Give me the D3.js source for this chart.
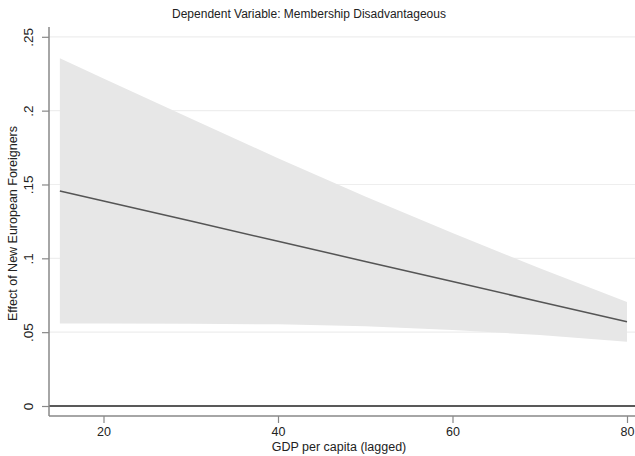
<!DOCTYPE html>
<html>
<head>
<meta charset="utf-8">
<script src="https://cdn.jsdelivr.net/npm/d3@7"></script>
<style>
  body { margin: 0; background: #fff; }
  text { font-family: "Liberation Sans", Arial, sans-serif; fill: #222; }
</style>
</head>
<body>
<div id="chart"></div>
<script>
// GDP per capita values where the estimates were read
const gdp = [15, 20, 30, 40, 50, 60, 70, 80];
const effect = [0.1456, 0.1388, 0.1252, 0.1115, 0.0979, 0.0843, 0.0706, 0.0570];
const upper = [0.2354, 0.2218, 0.1947, 0.1677, 0.1418, 0.1171, 0.0932, 0.0705];
const lower = [0.0558, 0.0558, 0.0557, 0.0553, 0.0540, 0.0515, 0.0480, 0.0435];

const xTicks = [20, 40, 60, 80];
const yTicks = [0, 0.05, 0.1, 0.15, 0.2, 0.25];
const yTickLabels = ["0", ".05", ".1", ".15", ".2", ".25"];

const titleText = "Dependent Variable: Membership Disadvantageous";
const xTitle = "GDP per capita (lagged)";
const yTitle = "Effect of New European Foreigners";

const wSvg = 635;
const hSvg = 456;
const pLeft = 49;
const pRight = 635;
const pTop = 27;
const pBottom = 416;

const x = d3.scaleLinear([20, 80], [103.5, 627]);
const y = d3.scaleLinear([0, 0.25], [406, 36.8]);

const rows = gdp.map((g, i) => ({g: g, e: effect[i], hi: upper[i], lo: lower[i]}));

const svg = d3.select("#chart")
    .append("svg")
    .attr("width", wSvg)
    .attr("height", hSvg);

// gridlines
svg.append("g")
    .selectAll("line")
    .data(yTicks.filter(t => t > 0))
    .enter()
    .append("line")
    .attr("x1", pLeft)
    .attr("x2", pRight)
    .attr("y1", d => y(d))
    .attr("y2", d => y(d))
    .attr("stroke", "#eeeeee")
    .attr("stroke-width", 1.2);

// confidence band
svg.append("path")
    .datum(rows)
    .attr("fill", "#e7e7e7")
    .attr("d", d3.area()
        .x(d => x(d.g))
        .y0(d => y(d.lo))
        .y1(d => y(d.hi)));

// estimate line
svg.append("path")
    .datum(rows)
    .attr("fill", "none")
    .attr("stroke", "#555")
    .attr("stroke-width", 1.5)
    .attr("d", d3.line()
        .x(d => x(d.g))
        .y(d => y(d.e)));

// zero reference line
svg.append("line")
    .attr("x1", pLeft)
    .attr("x2", pRight)
    .attr("y1", y(0))
    .attr("y2", y(0))
    .attr("stroke", "#222")
    .attr("stroke-width", 1.5);

// y axis
let yAxis = d3.axisLeft(y)
    .tickValues(yTicks)
    .tickSize(7)
    .tickPadding(5)
    .tickFormat((d, i) => yTickLabels[i]);

let yG = svg.append("g")
    .attr("transform", `translate(${pLeft}, 0)`)
    .call(yAxis);

yG.select(".domain").remove();
yG.append("line")
    .attr("x1", 0).attr("x2", 0)
    .attr("y1", pTop).attr("y2", pBottom)
    .attr("stroke", "#888").attr("stroke-width", 1.5);

yG.selectAll(".tick line").attr("stroke", "#888").attr("stroke-width", 1.2);
yG.selectAll(".tick text")
    .attr("font-size", 13.5)
    .attr("fill", "#222")
    .attr("x", 0)
    .attr("dy", 0)
    .attr("text-anchor", "middle")
    .attr("transform", "translate(-16, 0) rotate(-90)");

// x axis
let xAxis = d3.axisBottom(x)
    .tickValues(xTicks)
    .tickSize(7)
    .tickPadding(4);

let xG = svg.append("g")
    .attr("transform", `translate(0, ${pBottom})`)
    .call(xAxis);

xG.select(".domain").remove();
xG.append("line")
    .attr("x1", pLeft).attr("x2", pRight)
    .attr("y1", 0).attr("y2", 0)
    .attr("stroke", "#888").attr("stroke-width", 1.5);

xG.selectAll(".tick line").attr("stroke", "#888").attr("stroke-width", 1.2);
xG.selectAll(".tick text")
    .attr("font-size", 12.5)
    .attr("fill", "#222");

// titles
svg.append("text")
    .attr("x", 309)
    .attr("y", 18)
    .attr("text-anchor", "middle")
    .attr("font-size", 12)
    .text(titleText);

svg.append("text")
    .attr("x", 339)
    .attr("y", 451)
    .attr("text-anchor", "middle")
    .attr("font-size", 12.5)
    .text(xTitle);

svg.append("text")
    .attr("transform", `translate(17, ${(pTop + pBottom) / 2 + 2}) rotate(-90)`)
    .attr("text-anchor", "middle")
    .attr("font-size", 12.5)
    .text(yTitle);
</script>
</body>
</html>
